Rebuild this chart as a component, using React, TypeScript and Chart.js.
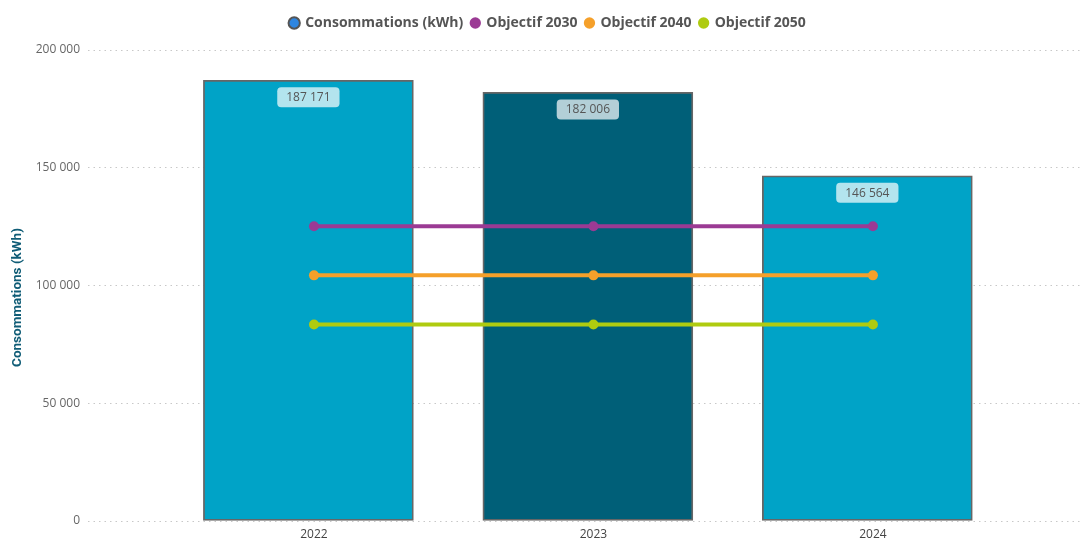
import React, { useEffect, useRef } from "react";
import { Chart, registerables } from "chart.js";

Chart.register(...registerables);

const YEARS = ["2022", "2023", "2024"];
const CONSOMMATIONS = [187171, 182006, 146564];
const OBJECTIF_2030 = [125160, 125160, 125160];
const OBJECTIF_2040 = [104300, 104300, 104300];
const OBJECTIF_2050 = [83440, 83440, 83440];
const Y_TICKS = [0, 50000, 100000, 150000, 200000];
const Y_TITLE = "Consommations (kWh)";

const BAR_COLORS = ["#00A3C7", "#005F78", "#00A3C7"];
const FONT = "'Open Sans', 'Noto Sans', sans-serif";

const fmt = (v: number) =>
  Math.round(v)
    .toString()
    .replace(/\B(?=(\d{3})+(?!\d))/g, " ");

const dataLabelPlugin = {
  id: "barLabels",
  beforeInit(chart: any) {
    const legend = chart.legend;
    if (legend) {
      const orig = legend.fit;
      legend.fit = function () {
        orig.call(this);
        this.height += 10;
      };
    }
  },
  afterLayout(chart: any) {
    const legend = chart.legend;
    if (legend) {
      legend.left += 8;
      legend.right += 8;
    }
  },
  afterDatasetsDraw(chart: any) {
    const meta = chart.getDatasetMeta(0);
    const ctx = chart.ctx;
    ctx.save();
    ctx.font = `12px ${FONT}`;
    ctx.textAlign = "center";
    ctx.textBaseline = "middle";
    meta.data.forEach((el: any, i: number) => {
      const txt = fmt(CONSOMMATIONS[i]);
      const w = ctx.measureText(txt).width + 18;
      const h = 20;
      const cx = el.x;
      const cy = el.y + 17;
      ctx.fillStyle = "rgba(255,255,255,0.7)";
      ctx.beginPath();
      (ctx as any).roundRect(cx - w / 2, cy - h / 2, w, h, 4);
      ctx.fill();
      ctx.fillStyle = "#555555";
      ctx.fillText(txt, cx, cy + 0.5);
    });
    ctx.restore();
  },
  afterDraw(chart: any) {
    const ctx = chart.ctx;
    const area = chart.chartArea;
    ctx.save();
    ctx.translate(18, (area.top + area.bottom) / 2 + 12);
    ctx.rotate(-Math.PI / 2);
    ctx.font = `bold 13.5px Roboto, 'Liberation Sans', sans-serif`;
    ctx.fillStyle = "#0F5C76";
    ctx.textAlign = "center";
    ctx.textBaseline = "middle";
    ctx.fillText(Y_TITLE, 0, 0);
    ctx.restore();
  },
};

export default function App() {
  const ref = useRef<HTMLCanvasElement | null>(null);
  useEffect(() => {
    if (!ref.current) return;
    const lineDs = (label: string, values: number[], color: string) => ({
      type: "line" as const,
      label,
      data: values.map((v, i) => ({ x: i, y: v })),
      borderColor: color,
      backgroundColor: color,
      borderWidth: 4,
      pointRadius: 5,
      pointHoverRadius: 5,
      pointBorderWidth: 0,
      fill: false,
      order: 0,
    });
    const chart = new Chart(ref.current, {
      type: "bar",
      data: {
        datasets: [
          {
            type: "bar",
            label: "Consommations (kWh)",
            data: CONSOMMATIONS.map((v, i) => ({ x: i - 0.02, y: v })),
            backgroundColor: BAR_COLORS,
            borderColor: "#666666",
            borderWidth: 1.8,
            borderSkipped: false,
            barThickness: 210,
            order: 1,
          } as any,
          lineDs("Objectif 2030", OBJECTIF_2030, "#9B3A94"),
          lineDs("Objectif 2040", OBJECTIF_2040, "#F5A02A"),
          lineDs("Objectif 2050", OBJECTIF_2050, "#AFCB10"),
        ],
      },
      options: {
        animation: false,
        responsive: true,
        maintainAspectRatio: false,
        layout: { padding: { left: 0, right: 7, top: 8, bottom: 0 } },
        plugins: {
          tooltip: { enabled: false },
          legend: {
            position: "top",
            labels: {
              usePointStyle: true,
              boxWidth: 8,
              boxHeight: 8,
              padding: 8,
              color: "#555555",
              font: { family: FONT, size: 14, weight: "bold" },
              generateLabels: () => [
                { text: "Consommations (kWh)", fillStyle: "#2F86E0", strokeStyle: "#555555", lineWidth: 2, pointStyle: "circle", datasetIndex: 0, fontColor: "#555555" },
                { text: "Objectif 2030", fillStyle: "#9B3A94", strokeStyle: "#9B3A94", lineWidth: 0, pointStyle: "circle", datasetIndex: 1, fontColor: "#555555" },
                { text: "Objectif 2040", fillStyle: "#F5A02A", strokeStyle: "#F5A02A", lineWidth: 0, pointStyle: "circle", datasetIndex: 2, fontColor: "#555555" },
                { text: "Objectif 2050", fillStyle: "#AFCB10", strokeStyle: "#AFCB10", lineWidth: 0, pointStyle: "circle", datasetIndex: 3, fontColor: "#555555" },
              ] as any,
            },
          },
        },
        scales: {
          x: {
            type: "linear",
            offset: false,
            min: -0.8086,
            max: 2.741,
            grid: { display: false, drawTicks: false, tickLength: 0, offset: false },
            border: { display: false },
            afterBuildTicks: (s: any) => {
              s.ticks = YEARS.map((_, i) => ({ value: i }));
            },
            afterFit: (s: any) => {
              s.height = 20;
            },
            ticks: {
              color: "#444444",
              font: { family: FONT, size: 12 },
              padding: 6,
              callback: (v: any) => YEARS[Math.round(Number(v))] ?? "",
            },
          },
          y: {
            min: 0,
            max: 200000,
            afterBuildTicks: (s: any) => {
              s.ticks = Y_TICKS.map((v) => ({ value: v }));
            },
            afterFit: (s: any) => {
              s.width = 88;
            },
            grid: { color: "#c8c8c8", lineWidth: 1, drawTicks: false },
            border: { display: false, dash: [1.5, 4] },
            ticks: {
              color: "#666666",
              font: { family: FONT, size: 12 },
              padding: 8,
              callback: (v: any) => fmt(Number(v)),
            },
            title: { display: false },
          },
        },
      } as any,
      plugins: [dataLabelPlugin],
    });
    return () => chart.destroy();
  }, []);
  return (
    <div style={{ position: "fixed", left: 0, top: 0, width: 1087, height: 541, background: "#ffffff" }}>
      <canvas ref={ref} />
    </div>
  );
}
